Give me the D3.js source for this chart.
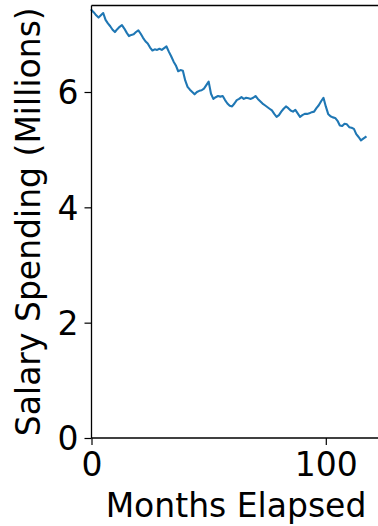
<!DOCTYPE html>
<html>
<head>
<meta charset="utf-8">
<script src="https://cdn.jsdelivr.net/npm/d3@7"></script>
<style>
body { margin: 0; background: #fff; }
text { font-family: "DejaVu Sans", sans-serif; fill: #000; }
</style>
</head>
<body>
<script>
//salary spending per month (millions)
var spending = [
    7.42, 7.38, 7.33, 7.29, 7.33, 7.37, 7.25, 7.19, 7.14, 7.08,
    7.04, 7.09, 7.13, 7.16, 7.10, 7.03, 6.97, 6.99, 7.00, 7.04,
    7.07, 7.01, 6.94, 6.88, 6.84, 6.77, 6.72, 6.74, 6.73, 6.75,
    6.73, 6.76, 6.79, 6.70, 6.62, 6.53, 6.46, 6.36, 6.38, 6.37,
    6.20, 6.09, 6.04, 6.00, 5.96, 6.00, 6.02, 6.03, 6.06, 6.12,
    6.18, 5.97, 5.88, 5.91, 5.93, 5.92, 5.93, 5.86, 5.80, 5.76,
    5.75, 5.80, 5.86, 5.88, 5.91, 5.88, 5.90, 5.89, 5.88, 5.90,
    5.93, 5.88, 5.84, 5.80, 5.77, 5.74, 5.71, 5.68, 5.62, 5.57,
    5.60, 5.66, 5.71, 5.75, 5.72, 5.68, 5.66, 5.69, 5.63, 5.57,
    5.60, 5.62, 5.62, 5.63, 5.65, 5.66, 5.72, 5.77, 5.84, 5.90,
    5.75, 5.62, 5.58, 5.56, 5.55, 5.50, 5.42, 5.41, 5.45, 5.44,
    5.39, 5.38, 5.36, 5.27, 5.22, 5.16, 5.19, 5.22
];
var months = spending.map(function(d, i){ return i; });
var xTicks = [0, 100];
var yTicks = [0, 2, 4, 6];

(function(){

var width = 378,
    height = 526,
    plotLeft = 91.5,
    plotTop = 5.5,
    plotBottom = 438;

var svg = d3.select("body")
    .append("svg")
    .attr("width", width)
    .attr("height", height);

var x = d3.scaleLinear()
    .domain([0, 123.6])
    .range([plotLeft, plotLeft + 123.6 * 2.343]);

var y = d3.scaleLinear()
    .domain([0, 7.5])
    .range([plotBottom, plotTop]);

//the line
var line = d3.line()
    .x(function(d, i){ return x(months[i]); })
    .y(function(d){ return y(d); });

svg.append("path")
    .datum(spending)
    .attr("fill", "none")
    .attr("stroke", "#1f77b4")
    .attr("stroke-width", 2.1)
    .attr("stroke-linejoin", "round")
    .attr("stroke-linecap", "square")
    .attr("d", line);

//axes
var xAxis = d3.axisBottom(x)
    .tickValues(xTicks)
    .tickSize(7)
    .tickPadding(7)
    .tickFormat(d3.format("d"));

var yAxis = d3.axisLeft(y)
    .tickValues(yTicks)
    .tickSize(7)
    .tickPadding(6)
    .tickFormat(d3.format("d"));

var gx = svg.append("g")
    .attr("transform", "translate(0," + plotBottom + ")")
    .call(xAxis);

var gy = svg.append("g")
    .attr("transform", "translate(" + plotLeft + ",0)")
    .call(yAxis);

[gx, gy].forEach(function(g){
    g.select(".domain").remove();
    g.selectAll("line").attr("stroke", "#000").attr("stroke-width", 1.2);
    g.selectAll("text")
        .style("font-size", "33px")
        .attr("fill", "#000");
});
gx.selectAll("text").attr("dy", "0.73em");
gy.selectAll("text").attr("dy", "0.36em");

//spines
svg.append("line")
    .attr("x1", plotLeft).attr("x2", plotLeft)
    .attr("y1", plotTop).attr("y2", plotBottom)
    .attr("stroke", "#000").attr("stroke-width", 1.3);

svg.append("line")
    .attr("x1", plotLeft).attr("x2", width)
    .attr("y1", plotTop).attr("y2", plotTop)
    .attr("stroke", "#000").attr("stroke-width", 1.3);

svg.append("line")
    .attr("x1", plotLeft).attr("x2", width)
    .attr("y1", plotBottom).attr("y2", plotBottom)
    .attr("stroke", "#000").attr("stroke-width", 1.3);

//labels
svg.append("text")
    .attr("x", 236)
    .attr("y", 517)
    .attr("text-anchor", "middle")
    .style("font-size", "33px")
    .text("Months Elapsed");

svg.append("text")
    .attr("text-anchor", "middle")
    .attr("transform", "translate(39.5," + ((plotTop + plotBottom) / 2) + ")rotate(-90)")
    .style("font-size", "33px")
    .text("Salary Spending (Millions)");

})();
</script>
</body>
</html>
